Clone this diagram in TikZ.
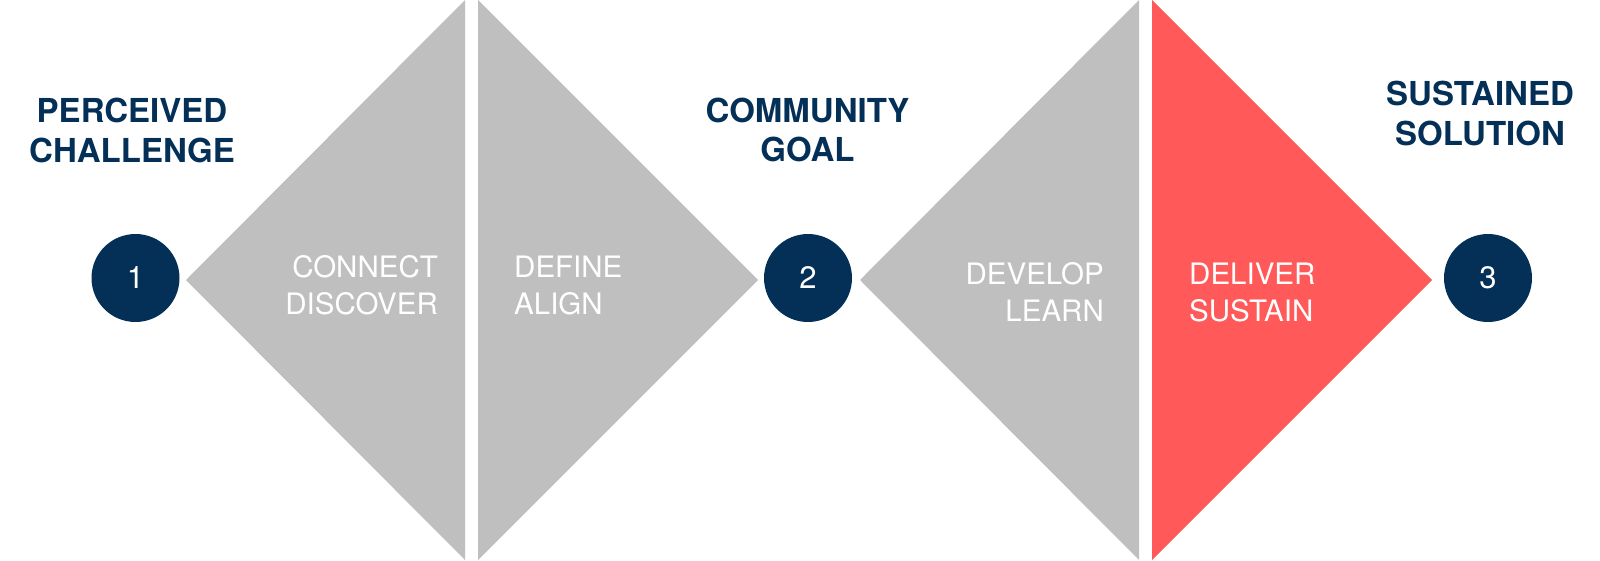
\documentclass[tikz,border=0pt]{standalone}
\usepackage{fontspec}
\setmainfont{TeX Gyre Heros}
\usepackage{xcolor}
\usepackage{tikz}
\usetikzlibrary{shapes,positioning}
\definecolor{navy}{RGB}{4,48,87}
\definecolor{panelgray}{RGB}{191,191,191}
\definecolor{panelred}{RGB}{255,89,89}

\begin{document}
\begin{tikzpicture}[
        x=1pt, y=-1pt,
        title/.style={font=\bfseries\fontsize{33}{39.6}\selectfont, text=navy, align=center, inner sep=0pt, anchor=base},
        phase/.style={font=\fontsize{29.5}{36.7}\selectfont, text=white, inner sep=0pt},
        stage/.style={circle, fill=navy, minimum size=88pt, inner sep=0pt, text=white, font=\fontsize{31}{33}\selectfont}
    ]
        \useasboundingbox (0,0) rectangle (1600,560);

        % Panels
        \fill[panelgray] (186,280) -- (465,0) -- (465,560) -- cycle;
        \fill[panelgray] (478,0) -- (758,280) -- (478,560) -- cycle;
        \fill[panelgray] (860,280) -- (1139,0) -- (1139,560) -- cycle;
        \fill[panelred] (1152,0) -- (1432,280) -- (1152,560) -- cycle;

        % Stage circles
        \node[stage] (s1) at (135.5,278) {1};
        \node[stage] (s2) at (808,278) {2};
        \node[stage] (s3) at (1488,278) {3};

        % Titles (anchored at the baseline of the last line)
        \node[title] (challenge) at (132,162.3) {PERCEIVED\\CHALLENGE};
        \node[title] (goal) at (807.5,161.7) {COMMUNITY\\GOAL};
        \node[title] (solution) at (1480,145) {SUSTAINED\\SOLUTION};

        % Phase labels
        \node[phase, anchor=base east, align=right] (connect) at (438,314) {CONNECT\\DISCOVER};
        \node[phase, anchor=base west, align=left] (define) at (514,314) {DEFINE\\ALIGN};
        \node[phase, anchor=base east, align=right] (develop) at (1104,321) {DEVELOP\\LEARN};
        \node[phase, anchor=base west, align=left] (deliver) at (1189,321) {DELIVER\\SUSTAIN};
    \end{tikzpicture}
\end{document}
